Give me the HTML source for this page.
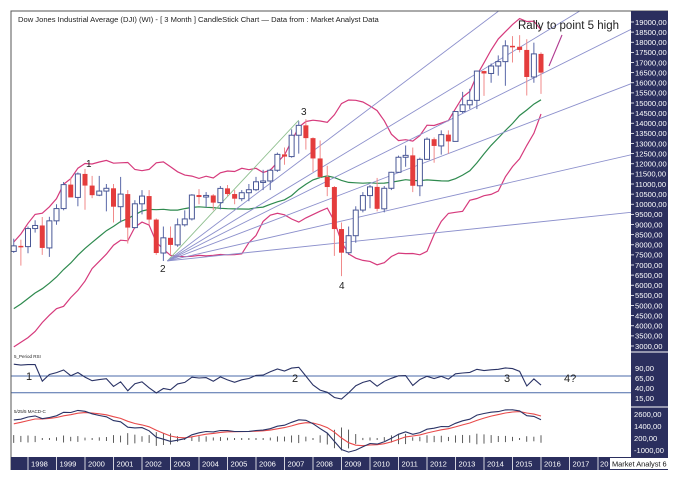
<!DOCTYPE html>
<html><head><meta charset="utf-8">
<style>
html,body{margin:0;padding:0;background:#fff;}
svg{display:block;font-family:"Liberation Sans",sans-serif;}
</style></head>
<body>
<svg id="chart" width="681" height="482" viewBox="0 0 681 482">
<defs><clipPath id="mainClip"><rect x="11" y="11" width="620" height="341"/></clipPath>
<clipPath id="lowClip"><rect x="11" y="352" width="620" height="105"/></clipPath></defs>
<rect x="0" y="0" width="681" height="482" fill="#fff"/>
<g id="mainG" clip-path="url(#mainClip)"></g>
<g id="lowG" clip-path="url(#lowClip)"></g>
<g id="axisG"></g>
</svg>
<script>
// ---------- data (quarterly, DJI) ----------
const preCloses=[3235,3319,3271,3301,3435,3516,3555,3754,3636,3625,3843,3834,4158,4556,4789,5117,5587,5655,5882,6448,6584,7673];
const quarters=["1997Q3","1997Q4","1998Q1","1998Q2","1998Q3","1998Q4","1999Q1","1999Q2","1999Q3","1999Q4","2000Q1","2000Q2","2000Q3","2000Q4","2001Q1","2001Q2","2001Q3","2001Q4","2002Q1","2002Q2","2002Q3","2002Q4","2003Q1","2003Q2","2003Q3","2003Q4","2004Q1","2004Q2","2004Q3","2004Q4","2005Q1","2005Q2","2005Q3","2005Q4","2006Q1","2006Q2","2006Q3","2006Q4","2007Q1","2007Q2","2007Q3","2007Q4","2008Q1","2008Q2","2008Q3","2008Q4","2009Q1","2009Q2","2009Q3","2009Q4","2010Q1","2010Q2","2010Q3","2010Q4","2011Q1","2011Q2","2011Q3","2011Q4","2012Q1","2012Q2","2012Q3","2012Q4","2013Q1","2013Q2","2013Q3","2013Q4","2014Q1","2014Q2","2014Q3","2014Q4","2015Q1","2015Q2","2015Q3","2015Q4","2016Q1"];
const opens=[7670,7945,7908,8800,8952,7843,9181,9786,10970,10337,11497,10922,10448,10651,10788,9879,10502,8848,10022,10404,9243,7592,8342,7992,8985,9275,10454,10357,10435,10080,10783,10504,10275,10569,10718,11109,11150,11679,12463,12354,13408,13896,13265,12262,11350,10850,8776,7608,8447,9712,10428,10857,9774,10788,11578,12320,12414,10913,12218,13212,12880,13437,13104,14579,14910,15130,16577,16458,16827,17043,17823,17776,17620,16285,17425];
const highs=[8300,8250,8900,9210,9370,9380,10000,11100,11330,11570,11750,11400,11400,11000,11000,11350,10700,10200,10700,10700,9300,8900,8900,9300,9700,10500,10750,10600,10500,10900,10950,10700,10700,11000,11350,11700,11750,12550,12800,13700,14100,14200,13300,13150,11900,10900,9100,8900,9900,10600,10950,11300,10900,11600,12400,12900,12800,12300,13300,13300,13650,13650,14600,15550,15700,16600,16600,16950,17350,18100,18300,18350,18150,17980,17500];
const lows=[7600,6970,7580,8600,7500,7400,8990,9700,10500,9900,9730,10300,10400,9650,9100,9100,8060,8800,9500,9000,7500,7200,7500,7900,8900,9200,10000,9850,9700,9750,10400,10000,10150,10150,10650,10700,10700,11600,11950,12300,12500,12700,11600,11300,10400,7450,6450,7500,8100,9600,9800,9650,9600,10700,11550,11850,10600,10400,12200,12050,12450,12500,13100,14500,14700,14700,15350,16000,16350,15850,17000,17500,15370,16000,15450];
const closes=[7945,7908,8800,8952,7843,9181,9786,10970,10337,11497,10922,10448,10651,10788,9879,10502,8848,10022,10404,9243,7592,8342,7992,8985,9275,10454,10357,10435,10080,10783,10504,10275,10569,10718,11109,11150,11679,12463,12354,13408,13896,13265,12262,11350,10850,8776,7608,8447,9712,10428,10857,9774,10788,11578,12320,12414,10913,12218,13212,12880,13437,13104,14579,14910,15130,16577,16458,16827,17043,17823,17776,17620,16285,17425,16500];
const priceTicks=[19000,18500,18000,17500,17000,16500,16000,15500,15000,14500,14000,13500,13000,12500,12000,11500,11000,10500,10000,9500,9000,8500,8000,7500,7000,6500,6000,5500,5000,4500,4000,3500,3000];
const rsiTicks=[90,65,40,15];
const macdTicks=[2600,1400,200,-1000];
const years=[1998,1999,2000,2001,2002,2003,2004,2005,2006,2007,2008,2009,2010,2011,2012,2013,2014,2015,2016,2017];
const fanTargetPrices=[19130,19130,18350,15730,12310,9540];
const fanTargetQuarters=[64.5,75.5,83,83,83,83];

// ---------- scales ----------
const QW=28.5/4;
const xq=i=>28+(i-2)*QW;
const xk=k=>28+k*QW;
const yP=v=>22+(19000-v)*0.02025;
const yR=v=>368+(90-v)*0.4;
const yM=v=>440-v*0.01;
const NS="http://www.w3.org/2000/svg";
function mk(tag,attrs,parent){const e=document.createElementNS(NS,tag);for(const k in attrs)e.setAttribute(k,attrs[k]);parent.appendChild(e);return e;}
const mainG=document.getElementById('mainG'),lowG=document.getElementById('lowG'),axisG=document.getElementById('axisG');

// ---------- indicators ----------
const all=preCloses.concat(closes),off=preCloses.length;
const ma=[],up=[],lo=[];
const BP=13;
for(let i=0;i<closes.length;i++){const j=i+off;
const s20=all.slice(j-19,j+1);ma.push(s20.reduce((a,b)=>a+b,0)/20);
const s=all.slice(j-BP+1,j+1);const m=s.reduce((a,b)=>a+b,0)/BP;const sd=Math.sqrt(s.reduce((a,b)=>a+(b-m)*(b-m),0)/BP);up.push(m+2*sd);lo.push(m-2*sd);}
function ema(arr,n){const a=2/(n+1);const out=[arr[0]];for(let i=1;i<arr.length;i++)out.push(out[i-1]+a*(arr[i]-out[i-1]));return out;}
const e5=ema(all,5),e25=ema(all,25);const macdAll=e5.map((v,i)=>v-e25[i]);const sigAll=ema(macdAll,5);
const macd=macdAll.slice(off),sig=sigAll.slice(off);
let ag=0,al=0;const rsiAll=[50];
for(let i=1;i<all.length;i++){const d=all[i]-all[i-1];const g=Math.max(d,0),l=Math.max(-d,0);if(i<=5){ag+=g/5;al+=l/5;}else{ag=(ag*4+g)/5;al=(al*4+l)/5;}rsiAll.push(al===0?100:100-100/(1+ag/al));}
const rsi=rsiAll.slice(off);

// ---------- bands & MA ----------
function pathOf(arr,yf){return arr.map((v,i)=>(i?'L':'M')+xq(i).toFixed(1)+','+yf(v).toFixed(1)).join('');}
let p=mk('path',{d:pathOf(up,yP),fill:'none',stroke:'#d63a7c','stroke-width':1.2},mainG);


p=mk('path',{d:pathOf(lo,yP),fill:'none',stroke:'#d63a7c','stroke-width':1.2},mainG);


p=mk('path',{d:pathOf(ma,yP),fill:'none',stroke:'#2e8a4e','stroke-width':1.2},mainG);



// ---------- fan lines from point 2 ----------
const piv={x:xq(21)+4,y:yP(7200)};
const g2=mk('line',{x1:piv.x,y1:piv.y,x2:xq(40),y2:yP(14150),stroke:'#8fbf8f','stroke-width':0.9},mainG);


for(let f=0;f<fanTargetPrices.length;f++){const ex=xk(fanTargetQuarters[f]),ey=yP(fanTargetPrices[f]);const t=3;
const l=mk('line',{x1:piv.x,y1:piv.y,x2:piv.x+(ex-piv.x)*t,y2:piv.y+(ey-piv.y)*t,stroke:'#8c90cc','stroke-width':0.9},mainG);

}
const pk=mk('line',{x1:549,y1:66,x2:562,y2:35,stroke:'#b03a90','stroke-width':1.1},mainG);



// ---------- candles ----------
for(let i=0;i<closes.length;i++){const x=xq(i),o=opens[i],c=closes[i],bull=c>=o;
const col=bull?'#4a5896':'#e43c3c',wc=bull?'#5a68a8':'#f08a8a';
const w=mk('line',{x1:x,x2:x,y1:yP(highs[i]),y2:yP(lows[i]),stroke:wc,'stroke-width':1},mainG);


const top=yP(Math.max(o,c)),h=Math.max(1.5,Math.abs(yP(o)-yP(c)));
const r=mk('rect',{x:x-2.5,y:top,width:5,height:h,fill:bull?'#fff':'#e43c3c',stroke:col,'stroke-width':bull?1:0},mainG);

}

// ---------- annotations ----------
function txt(s,x,y,size,name,parent,fill,anchor){const t=mk('text',{x:x,y:y,'font-size':size,fill:fill||'#222','text-anchor':anchor||'start'},parent||axisG);t.textContent=s;

return t;}
txt('Dow Jones Industrial Average (DJI) (WI) -  [ 3 Month ] CandleStick Chart — Data from : Market Analyst Data',18,22,7.6,'chart-title');
txt('Rally to point 5 high',518,29,11.5,'rally-annotation');
txt('1',86,167,10,'wave-label-1');txt('2',160,272,10,'wave-label-2');txt('3',301,115,10,'wave-label-3');txt('4',339,289,10,'wave-label-4');

// ---------- RSI panel ----------
let hl=mk('line',{x1:11,x2:631,y1:yR(70),y2:yR(70),stroke:'#4a6aa8','stroke-width':1},lowG);


hl=mk('line',{x1:11,x2:631,y1:yR(28),y2:yR(28),stroke:'#4a6aa8','stroke-width':1},lowG);


p=mk('path',{d:pathOf(rsi,yR),fill:'none',stroke:'#2a3366','stroke-width':1.1},lowG);


txt('5_Period RSI',14,358,4.5,'rsi-title');
txt('1',26,380,11,'rsi-label-1');txt('2',292,382,11,'rsi-label-2');txt('3',504,382,11,'rsi-label-3');txt('4?',564,382,11,'rsi-label-4');

// ---------- MACD panel ----------
txt('5/25/5 MACD-C',14,413,4.5,'macd-title');
for(let i=0;i<closes.length;i++){const h=macd[i]-sig[i];const len=Math.max(2,Math.abs(h)*0.02);
const t=mk('line',{x1:xq(i),x2:xq(i),y1:439-len/2,y2:439+len/2,stroke:'#333','stroke-width':0.8},lowG);

}
p=mk('path',{d:pathOf(sig,yM),fill:'none',stroke:'#e84a4a','stroke-width':1.1},lowG);


p=mk('path',{d:pathOf(macd,yM),fill:'none',stroke:'#2a3366','stroke-width':1.1},lowG);



// ---------- frame & right axis ----------
let fr=mk('path',{d:'M11,470 L11,11 L668,11',fill:'none',stroke:'#555','stroke-width':1},axisG);


let rp=mk('rect',{x:631,y:11,width:37,height:446,fill:'#2b2f5e'},axisG);


[352,407].forEach(y=>{const s=mk('line',{x1:631,x2:668,y1:y,y2:y,stroke:'#fff','stroke-width':1},axisG);

});
function fmt(v){return (v<0?'-':'')+Math.abs(v)+',00';}
priceTicks.forEach(v=>{const y=yP(v);const tk=mk('line',{x1:631,x2:634,y1:y,y2:y,stroke:'#fff','stroke-width':0.8},axisG);


txt(fmt(v),635,y+2.8,7.6,'price-tick-label',axisG,'#fff');});
rsiTicks.forEach(v=>{const y=yR(v);txt(fmt(v),635,y+2.8,7.6,'rsi-tick-label',axisG,'#fff');});
macdTicks.forEach(v=>{const y=yM(v);txt(fmt(v),634,y+2.8,7.6,'macd-tick-label',axisG,'#fff');});

// ---------- bottom date axis ----------
let bb=mk('rect',{x:11,y:457,width:657,height:13,fill:'#2b2f5e'},axisG);


years.forEach((yr,i)=>{const x=xk(i*4);const s=mk('line',{x1:x,x2:x,y1:457,y2:470,stroke:'#fff','stroke-width':0.8},axisG);


txt(String(yr),x+3,466.5,7.6,'year-label',axisG,'#fff');});
const sx=xk(80);const s20=mk('line',{x1:sx,x2:sx,y1:457,y2:470,stroke:'#fff','stroke-width':0.8},axisG);


txt('20',sx+2,466.5,7.6,'year-label',axisG,'#fff');
let wb=mk('rect',{x:610,y:458,width:58,height:11,fill:'#fff'},axisG);


txt('Market Analyst 6',612,466.5,7.4,'watermark',axisG,'#111');
</script>
</body></html>
